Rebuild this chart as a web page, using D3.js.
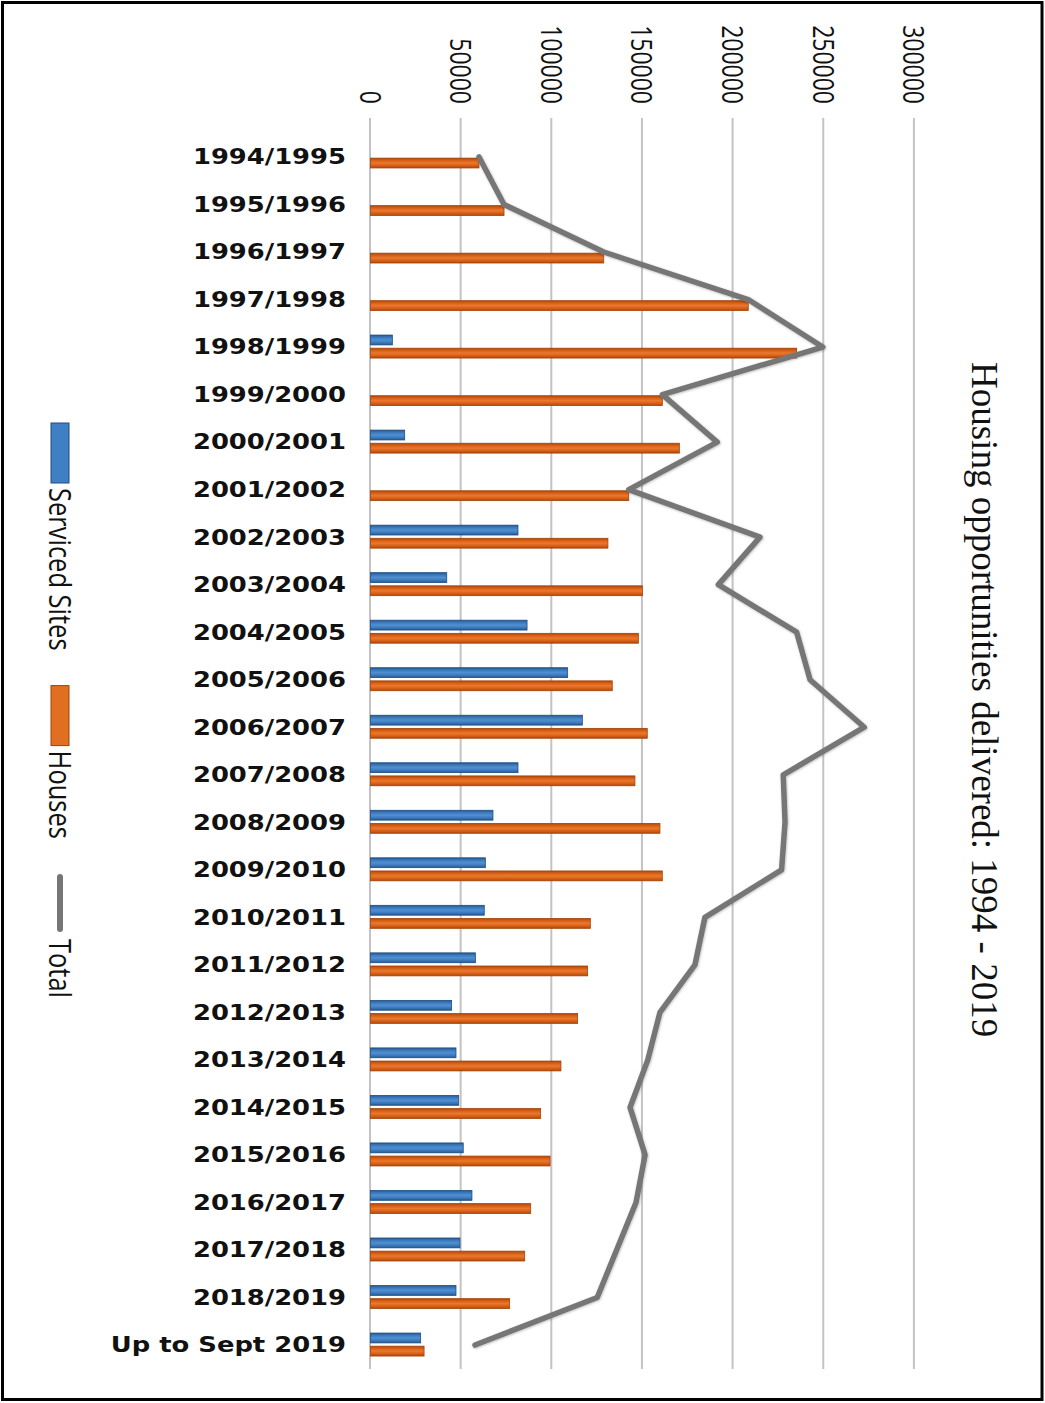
<!DOCTYPE html>
<html>
<head>
<meta charset="utf-8">
<script src="https://cdn.jsdelivr.net/npm/d3@7"></script>
<style>
  html, body { margin: 0; padding: 0; background: #fff; }
</style>
</head>
<body>
<script>
// Housing delivery per financial year
const categories = [
  "1994/1995", "1995/1996", "1996/1997", "1997/1998", "1998/1999", "1999/2000",
  "2000/2001", "2001/2002", "2002/2003", "2003/2004", "2004/2005", "2005/2006",
  "2006/2007", "2007/2008", "2008/2009", "2009/2010", "2010/2011", "2011/2012",
  "2012/2013", "2013/2014", "2014/2015", "2015/2016", "2016/2017", "2017/2018",
  "2018/2019", "Up to Sept 2019"
];
const servicedSites = [
  0, 0, 0, 0, 12600, 0,
  19400, 0, 81900, 42600, 86900, 109300,
  117400, 81900, 68100, 63900, 63300, 58400,
  45300, 47700, 49200, 51700, 56500, 49900,
  47700, 28200
];
const houses = [
  60400, 74200, 129200, 208900, 235600, 161500,
  170900, 143000, 131500, 150500, 148300, 133900,
  153200, 146400, 160200, 161500, 121800, 120300,
  114800, 105600, 94400, 99600, 88900, 85600,
  77300, 30100
];
const totals = [
  60400, 74200, 129200, 208900, 250000, 161500,
  191800, 143000, 215400, 192400, 235600, 243000,
  272900, 228200, 229200, 227300, 185000, 179500,
  160200, 153500, 143700, 152000, 147000, 136300,
  125600, 58200
];
const xTicks = [0, 50000, 100000, 150000, 200000, 250000, 300000];
const seriesNames = ["Serviced Sites", "Houses", "Total"];
const chartTitle = "Housing opportunities delivered: 1994 - 2019";

const W = 1045, H = 1403;
const svg = d3.select("body").append("svg")
  .attr("width", W).attr("height", H)
  .style("display", "block");

svg.append("rect").attr("width", W).attr("height", H).attr("fill", "#fff");

// Bevel-like gradients for the bars and a soft shadow for the line
const defs = svg.append("defs");
function barGradient(id, edge, mid, light) {
  const g = defs.append("linearGradient").attr("id", id)
    .attr("x1", 0).attr("y1", 0).attr("x2", 0).attr("y2", 1);
  [[0, edge], [0.22, mid], [0.5, light], [0.78, mid], [1, edge]].forEach(([o, c]) =>
    g.append("stop").attr("offset", o).attr("stop-color", c));
}
barGradient("gradSites", "#24578c", "#3a78bb", "#4f8fd2");
barGradient("gradHouses", "#b0470a", "#d55e15", "#ea782d");

const shadow = defs.append("filter").attr("id", "lineShadow")
  .attr("x", "-10%").attr("y", "-10%").attr("width", "120%").attr("height", "120%");
shadow.append("feDropShadow").attr("dx", 0.6).attr("dy", 0.8)
  .attr("stdDeviation", 1.2).attr("flood-color", "#000").attr("flood-opacity", 0.28);

// Scales
const x = d3.scaleLinear().domain([0, 300000]).range([369.5, 913.4]);
const y = d3.scaleBand().domain(categories).range([133.2, 1368.8]);
const bw = y.bandwidth();
const sub = d3.scaleBand().domain(seriesNames.slice(0, 2))
  .range([bw / 2 - 12, bw / 2 + 11]).paddingInner(0.25);

const gridTop = 118, gridBottom = 1369, tickLabelEnd = 104;

// Value axis along the top with full-height gridlines
const xAxis = svg.append("g")
  .attr("transform", `translate(0,${gridTop})`)
  .call(d3.axisTop(x).tickValues(xTicks)
    .tickSize(-(gridBottom - gridTop)).tickFormat(d3.format("d")));
xAxis.select(".domain").remove();
xAxis.selectAll(".tick line")
  .attr("stroke", "#c3c3c3").attr("stroke-width", 2);
xAxis.selectAll(".tick text")
  .attr("x", 0).attr("y", 0).attr("dy", "0.35em")
  .attr("text-anchor", "end")
  .attr("transform", `translate(0,${tickLabelEnd - gridTop}) scale(1.3,1) rotate(90)`)
  .attr("fill", "#111")
  .style("font-family", "'Open Sans', sans-serif")
  .style("font-size", "23px");

// Bars
const rows = categories.map((c, i) => ({
  cat: c,
  values: [
    { key: "Serviced Sites", v: servicedSites[i], fill: "url(#gradSites)", stroke: "#1f4e80" },
    { key: "Houses", v: houses[i], fill: "url(#gradHouses)", stroke: "#a3420a" }
  ]
}));

const rowG = svg.append("g").selectAll("g").data(rows).join("g")
  .attr("transform", d => `translate(0,${y(d.cat)})`);
rowG.selectAll("rect").data(d => d.values.filter(v => v.v > 0)).join("rect")
  .attr("x", x(0) + 1)
  .attr("y", d => sub(d.key))
  .attr("width", d => x(d.v) - x(0) - 1)
  .attr("height", sub.bandwidth())
  .attr("fill", d => d.fill)
  .attr("stroke", d => d.stroke)
  .attr("stroke-width", 0.8);

// Total line
const line = d3.line()
  .x(d => x(d.v))
  .y(d => y(d.cat) + bw / 2);
svg.append("path")
  .datum(categories.map((c, i) => ({ cat: c, v: totals[i] })))
  .attr("d", line)
  .attr("fill", "none")
  .attr("stroke", "#767676")
  .attr("stroke-width", 5.5)
  .attr("stroke-linejoin", "round")
  .attr("stroke-linecap", "round")
  .attr("filter", "url(#lineShadow)");

// Category labels
const yAxis = svg.append("g")
  .attr("transform", `translate(${x(0)},0)`)
  .call(d3.axisLeft(y).tickSize(0));
yAxis.select(".domain").remove();
yAxis.selectAll(".tick text")
  .attr("x", 0).attr("dy", "0.35em")
  .attr("text-anchor", "end")
  .attr("transform", "translate(-23.5,0) scale(1.23,1)")
  .attr("fill", "#111")
  .style("font-family", "'DejaVu Sans', Verdana, sans-serif")
  .style("font-weight", "bold")
  .style("font-size", "21px");

// Title, reading downward along the right edge
svg.append("text")
  .attr("transform", "translate(972,362) rotate(90)")
  .attr("text-anchor", "start")
  .attr("fill", "#111")
  .style("font-family", "'Liberation Serif', 'Times New Roman', serif")
  .style("font-size", "37px")
  .text(chartTitle);

// Legend, reading downward along the left edge
const legend = svg.append("g").attr("transform", "translate(60,423)");
let cursor = 0;
seriesNames.forEach((name, i) => {
  const item = legend.append("g").attr("transform", `translate(0,${cursor})`);
  const swatchLen = 60;
  if (i < 2) {
    item.append("rect")
      .attr("x", -9).attr("y", 0).attr("width", 18).attr("height", swatchLen)
      .attr("fill", i === 0 ? "#3f7fc3" : "#e06f22")
      .attr("stroke", i === 0 ? "#1f4e80" : "#a3420a")
      .attr("stroke-width", 1);
  } else {
    item.append("line")
      .attr("x1", 0).attr("x2", 0).attr("y1", 3).attr("y2", swatchLen - 5)
      .attr("stroke", "#767676").attr("stroke-width", 6)
      .attr("stroke-linecap", "round");
  }
  const label = item.append("text")
    .attr("dy", "0.35em")
    .attr("transform", `translate(0,${swatchLen + 5}) scale(1.2,1) rotate(90)`)
    .attr("fill", "#111")
    .style("font-family", "'Open Sans', sans-serif")
    .style("font-size", "25.5px")
    .text(name);
  cursor += swatchLen + 5 + label.node().getComputedTextLength() + 35;
});

// Frame
svg.append("rect")
  .attr("x", 2.5).attr("y", 2.5)
  .attr("width", 1039.5).attr("height", 1397)
  .attr("fill", "none").attr("stroke", "#000").attr("stroke-width", 3);
</script>
</body>
</html>
